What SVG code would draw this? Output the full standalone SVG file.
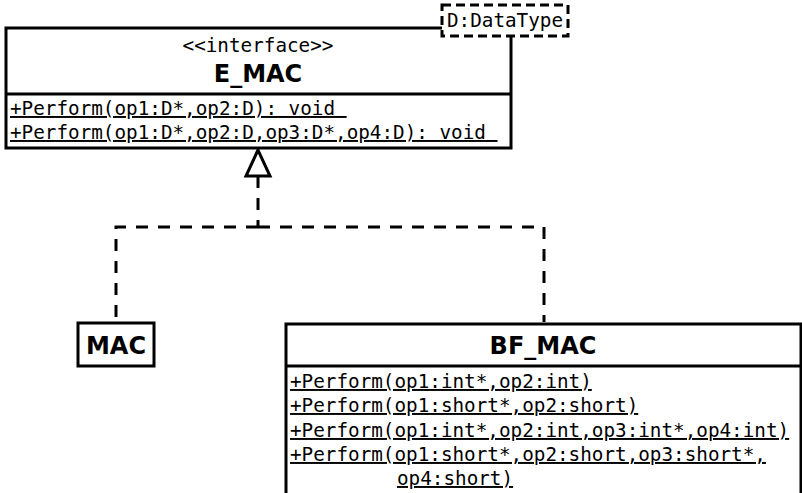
<svg xmlns="http://www.w3.org/2000/svg" width="802" height="493" viewBox="0 0 802 493">
<style>
.box{fill:#fff;stroke:#000;stroke-width:3}
.mono{font-family:"DejaVu Sans Mono","Liberation Mono",monospace;font-size:19.3px;fill:#000}
.u{text-decoration:underline}
.bold{font-family:"DejaVu Sans","Liberation Sans",sans-serif;font-weight:bold;font-size:24px;fill:#000}
.dash{fill:none;stroke:#000;stroke-width:3;stroke-dasharray:12 10}
</style>
<rect width="802" height="493" fill="#fff"/>
<g id="connectors">
<path class="dash" d="M258,176 V227"/>
<path class="dash" d="M258,227 H116 V322"/>
<path class="dash" d="M258,227 H544 V322"/>
<polygon points="258,150 246,176 270,176" fill="#fff" stroke="#000" stroke-width="3"/>
</g>
<g id="E_MAC">
<rect class="box" x="6" y="28" width="505" height="120"/>
<line x1="6" y1="94" x2="511" y2="94" stroke="#000" stroke-width="3"/>
<text class="mono" x="258" y="52" text-anchor="middle">&lt;&lt;interface&gt;&gt;</text>
<text class="bold" x="258" y="82" text-anchor="middle">E_MAC</text>
<text class="mono u" x="10" y="115" xml:space="preserve">+Perform(op1:D*,op2:D): void </text>
<text class="mono u" x="10" y="139" xml:space="preserve">+Perform(op1:D*,op2:D,op3:D*,op4:D): void </text>
<rect x="442" y="5" width="126" height="31" fill="#fff" stroke="#000" stroke-width="3" stroke-dasharray="9 5"/>
<text class="mono" x="505" y="27" text-anchor="middle">D:DataType</text>
</g>
<g id="MAC">
<rect class="box" x="78" y="323" width="76" height="43"/>
<text class="bold" x="116" y="354" text-anchor="middle">MAC</text>
</g>
<g id="BF_MAC">
<rect class="box" x="286" y="324" width="515" height="172"/>
<line x1="286" y1="366" x2="801" y2="366" stroke="#000" stroke-width="3"/>
<text class="bold" x="543" y="354" text-anchor="middle">BF_MAC</text>
<text class="mono u" x="290" y="388">+Perform(op1:int*,op2:int)</text>
<text class="mono u" x="290" y="412">+Perform(op1:short*,op2:short)</text>
<text class="mono u" x="290" y="437">+Perform(op1:int*,op2:int,op3:int*,op4:int)</text>
<text class="mono u" x="290" y="461">+Perform(op1:short*,op2:short,op3:short*,</text>
<text class="mono u" x="397" y="485">op4:short)</text>
</g>
</svg>
